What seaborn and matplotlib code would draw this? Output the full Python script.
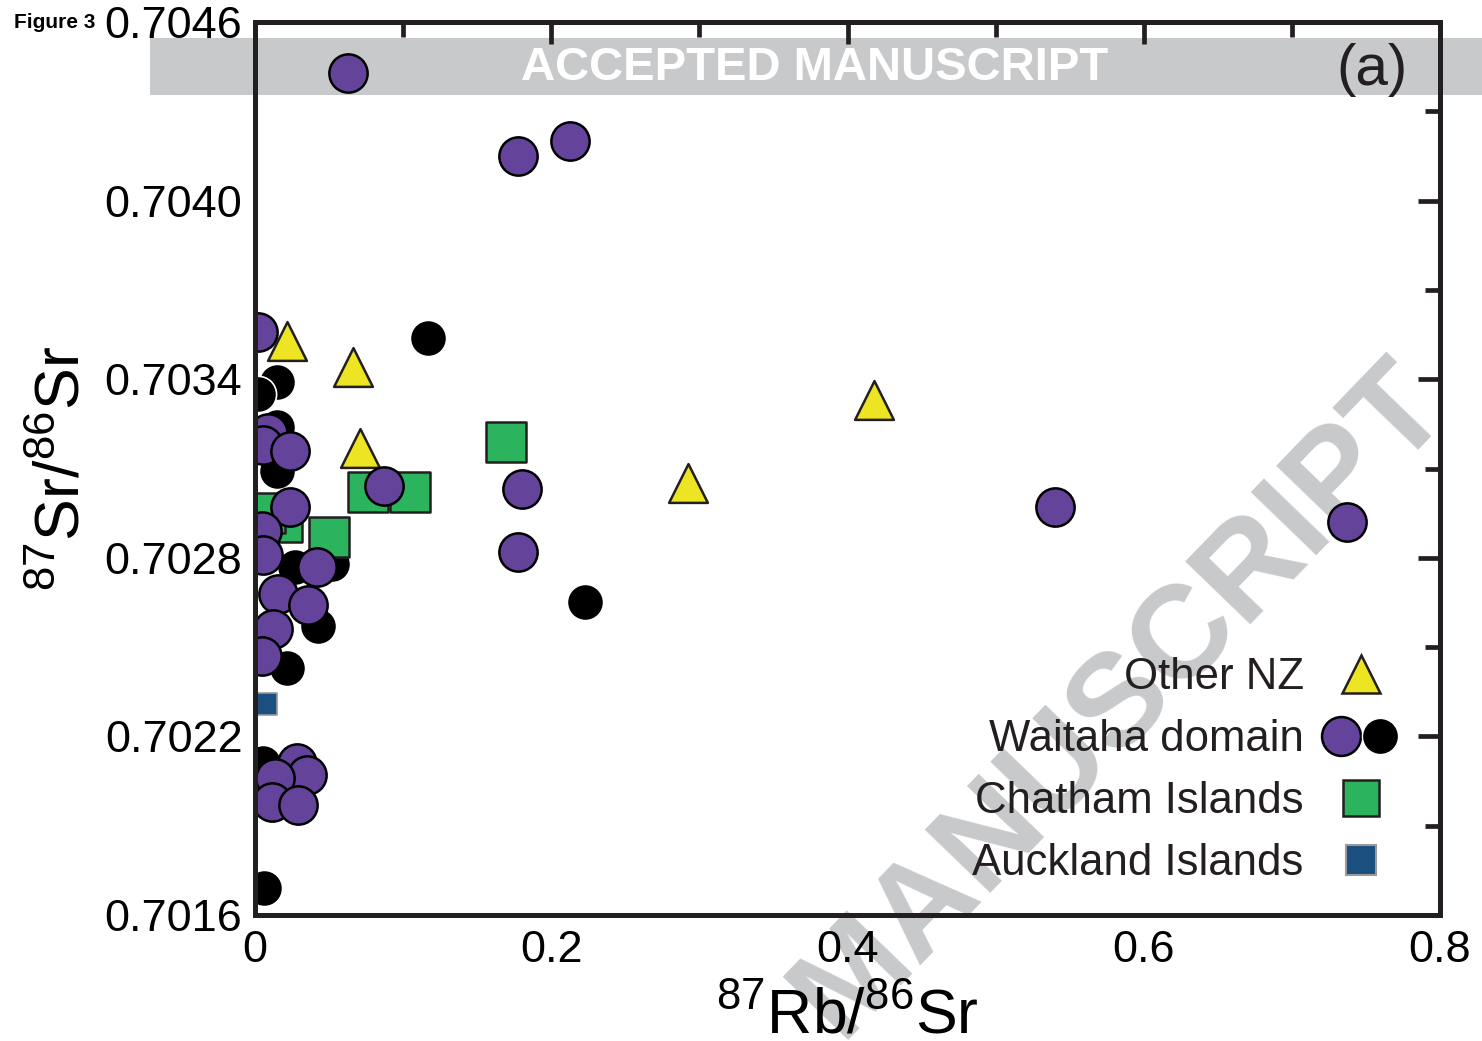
import matplotlib
matplotlib.use("Agg")
import matplotlib.pyplot as plt
import pandas as pd
import seaborn as sns
from matplotlib.lines import Line2D
from matplotlib.patches import Rectangle
from matplotlib.legend_handler import HandlerTuple
from matplotlib.ticker import FixedLocator, FormatStrFormatter

# --- data: 87Rb/86Sr vs 87Sr/86Sr ---------------------------------------
# Waitaha domain (purple symbols)
purple_rb = [0.0628, 0.1776, 0.2127, 0.0020, 0.0871, 0.1803, 0.1776, 0.5402,
             0.7373, 0.0088, 0.0054, 0.0236, 0.0236, 0.0047, 0.0054, 0.0419,
             0.0155, 0.0358, 0.0122, 0.0047, 0.0284, 0.0351, 0.0135, 0.0115,
             0.0290]
purple_sr = [0.70443, 0.70415, 0.70420, 0.70356, 0.70304, 0.70303, 0.70282,
             0.70297, 0.70292, 0.70322, 0.70318, 0.70316, 0.70297, 0.70289,
             0.70281, 0.70277, 0.70268, 0.70264, 0.70256, 0.70247, 0.70211,
             0.70207, 0.70206, 0.70198, 0.70197]

# Waitaha domain (black symbols)
black_rb = [0.1168, 0.2228, 0.0149, 0.0020, 0.0149, 0.0149, 0.0270, 0.0520,
            0.0425, 0.0216, 0.0054, 0.0061]
black_sr = [0.70354, 0.70265, 0.70339, 0.70335, 0.70324, 0.70309, 0.70277,
            0.70278, 0.70257, 0.70243, 0.70211, 0.70169]

# Other NZ
other_rb = [0.0216, 0.0662, 0.0709, 0.2923, 0.4179]
other_sr = [0.70353, 0.70344, 0.70317, 0.70305, 0.70333]

# Chatham Islands
chatham_rb = [0.1695, 0.1047, 0.0763, 0.0500, 0.0182, 0.0068]
chatham_sr = [0.70319, 0.70302, 0.70302, 0.70287, 0.70292, 0.70295]

# Auckland Islands
auckland_rb = [0.0040, 0.0074]
auckland_sr = [0.70297, 0.70231]

legend_labels = ["Other NZ", "Waitaha domain", "Chatham Islands", "Auckland Islands"]
x_ticks = [0, 0.2, 0.4, 0.6, 0.8]
x_ticklabels = ["0", "0.2", "0.4", "0.6", "0.8"]
x_minor = [0.1, 0.3, 0.5, 0.7]
y_ticks = [0.7016, 0.7022, 0.7028, 0.7034, 0.7040, 0.7046]
y_minor = [0.7019, 0.7025, 0.7031, 0.7037, 0.7043]

# --- styling --------------------------------------------------------------
PURPLE = "#64449a"
YELLOW = "#ede523"
GREEN = "#2bb35d"
BLUE = "#1b4f80"
INK = "#231f20"
GREY = "#c8c9cb"

sns.set_theme(style="white")
plt.rcParams["font.family"] = ["Liberation Sans", "DejaVu Sans"]
plt.rcParams["mathtext.fontset"] = "custom"
plt.rcParams["mathtext.rm"] = "Liberation Sans"
plt.rcParams["mathtext.it"] = "Liberation Sans"

W, H = 1482, 1041
fig = plt.figure(figsize=(W / 100, H / 100), dpi=100)
fig.patch.set_facecolor("white")
ax = fig.add_axes([255 / W, 1 - 915 / H, (1440 - 255) / W, (915 - 22) / H])
ax.patch.set_alpha(0)


def frame(xs, ys):
    return pd.DataFrame({"rb": xs, "sr": ys})


sns.scatterplot(data=frame(black_rb, black_sr), x="rb", y="sr", ax=ax,
                marker="o", s=680, color="black", edgecolor="white",
                linewidth=1.2, zorder=2)
sns.scatterplot(data=frame(auckland_rb, auckland_sr), x="rb", y="sr", ax=ax,
                marker="s", s=260, color=BLUE, edgecolor="#9a9a9a",
                linewidth=1.2, zorder=3)
sns.scatterplot(data=frame(chatham_rb, chatham_sr), x="rb", y="sr", ax=ax,
                marker="s", s=820, color=GREEN, edgecolor=INK,
                linewidth=1.8, zorder=4)
sns.scatterplot(data=frame(other_rb, other_sr), x="rb", y="sr", ax=ax,
                marker="^", s=780, color=YELLOW, edgecolor=INK,
                linewidth=1.8, zorder=5)
sns.scatterplot(data=frame(purple_rb, purple_sr), x="rb", y="sr", ax=ax,
                marker="o", s=760, color=PURPLE, edgecolor="black",
                linewidth=1.8, zorder=6)

# --- axes -----------------------------------------------------------------
ax.set_xlim(0, 0.8)
ax.set_ylim(0.7016, 0.7046)
ax.xaxis.set_major_locator(FixedLocator(x_ticks))
ax.xaxis.set_minor_locator(FixedLocator(x_minor))
ax.set_xticklabels(x_ticklabels)
ax.yaxis.set_major_locator(FixedLocator(y_ticks))
ax.yaxis.set_minor_locator(FixedLocator(y_minor))
ax.yaxis.set_major_formatter(FormatStrFormatter("%.4f"))

for side in ax.spines.values():
    side.set_linewidth(3.6)
    side.set_color(INK)
    side.set_zorder(10)

ax.tick_params(which="both", direction="in", top=True, right=True,
               color=INK, width=3.4)
ax.tick_params(which="major", length=16)
ax.tick_params(which="minor", length=11)
ax.tick_params(axis="y", which="major", labelsize=32.5, pad=9, labelcolor="black")
ax.tick_params(axis="x", which="major", labelsize=32.5, pad=11, labelcolor="black")

ax.set_xlabel(r"$^{87}$Rb/$^{86}$Sr", fontsize=45, color="black")
ax.set_ylabel(r"$^{87}$Sr/$^{86}$Sr", fontsize=45, color="black")
ax.xaxis.set_label_coords(0.5, -0.081)
ax.yaxis.set_label_coords(-0.137, 0.5)

# --- legend ---------------------------------------------------------------
h_other = Line2D([], [], ls="none", marker="^", ms=27, mfc=YELLOW, mec=INK, mew=1.8)
h_purple = Line2D([], [], ls="none", marker="o", ms=28, mfc=PURPLE, mec="black", mew=1.8)
h_black = Line2D([], [], ls="none", marker="o", ms=26, mfc="black", mec="white", mew=1.0)
h_chat = Line2D([], [], ls="none", marker="s", ms=26, mfc=GREEN, mec=INK, mew=1.8)
h_auck = Line2D([], [], ls="none", marker="s", ms=21, mfc=BLUE, mec="#9a9a9a", mew=1.5)

leg = ax.legend([h_other, (h_purple, h_black), h_chat, h_auck], legend_labels,
                handler_map={tuple: HandlerTuple(ndivide=None, pad=0)},
                markerfirst=False, frameon=False, fontsize=31.5,
                handlelength=1.8, handletextpad=0.4, labelspacing=0.48,
                borderpad=0, borderaxespad=0, loc="upper right",
                bbox_to_anchor=(1400 / W, 1 - 657 / H),
                bbox_transform=fig.transFigure)
for t in leg.get_texts():
    t.set_color(INK)

# --- page furniture -------------------------------------------------------
fig.patches.append(Rectangle((150 / W, 1 - 95 / H), (W - 150) / W, 57 / H,
                             transform=fig.transFigure, facecolor=GREY,
                             edgecolor="none", zorder=-2))
fig.text(815 / W, 1 - 68 / H, "ACCEPTED MANUSCRIPT", color="white",
         fontsize=34, fontweight="bold", ha="center", va="center", zorder=-1)
fig.text(1120 / W, 1 - 700 / H, "MANUSCRIPT", color=GREY, fontsize=95,
         fontweight="bold", rotation=46, rotation_mode="anchor",
         ha="center", va="center", zorder=-1)
fig.text(1372 / W, 1 - 70 / H, "(a)", color=INK, fontsize=42,
         ha="center", va="center", zorder=-1)
fig.text(14 / W, 1 - 23 / H, "Figure 3", color="black", fontsize=15,
         fontweight="bold", ha="left", va="center")

fig.savefig("out.png", dpi=100)
